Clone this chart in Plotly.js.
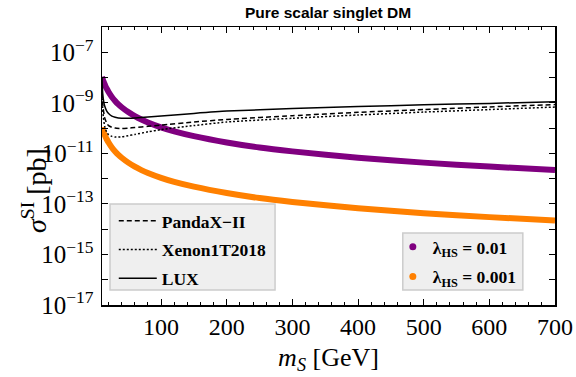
<!DOCTYPE html>
<html>
<head>
<meta charset="utf-8">
<script src="https://cdn.plot.ly/plotly-3.0.1.min.js"></script>
<style>html,body{margin:0;padding:0;background:#fff;}#chart{width:576px;height:377px;}</style>
</head>
<body>
<div id="chart"></div>
<script>
// Dark-matter mass grid for the singlet predictions (GeV)
const massDM = [10, 11, 12, 13, 14, 15, 17, 20, 25, 30, 35, 40, 50, 60, 70, 80, 100, 120, 150, 200, 250, 300, 400, 500, 600, 700];
// lambda_HS = 0.01 (pb)
const sigmaL001 = [1.07e-8, 8.84e-9, 7.43e-9, 6.33e-9, 5.46e-9, 4.76e-9, 3.70e-9, 2.68e-9, 1.71e-9, 1.19e-9, 8.7e-10, 6.7e-10, 4.3e-10, 2.97e-10, 2.18e-10, 1.67e-10, 1.07e-10, 7.4e-11, 4.8e-11, 2.7e-11, 1.7e-11, 1.2e-11, 6.7e-12, 4.3e-12, 3.0e-12, 2.2e-12];
// lambda_HS = 0.001 (pb)
const sigmaL0001 = [1.07e-10, 8.84e-11, 7.43e-11, 6.33e-11, 5.46e-11, 4.76e-11, 3.70e-11, 2.68e-11, 1.71e-11, 1.19e-11, 8.7e-12, 6.7e-12, 4.3e-12, 2.97e-12, 2.18e-12, 1.67e-12, 1.07e-12, 7.4e-13, 4.8e-13, 2.7e-13, 1.7e-13, 1.2e-13, 6.7e-14, 4.3e-14, 3.0e-14, 2.2e-14];

// Experimental limits
const limitMass = [10, 11, 12, 14, 17, 20, 25, 30, 40, 50, 60, 80, 100, 150, 200, 300, 400, 500, 600, 700];
const luxLimit = [1.0e-8, 2.5e-9, 1.4e-9, 7.6e-10, 4.8e-10, 3.8e-10, 3.0e-10, 2.7e-10, 2.45e-10, 2.45e-10, 2.5e-10, 2.75e-10, 3.0e-10, 3.8e-10, 4.7e-10, 5.9e-10, 7.1e-10, 8.3e-10, 9.5e-10, 1.1e-9];
const pandaxLimit = [5.0e-9, 1.0e-9, 5.5e-10, 2.6e-10, 1.6e-10, 1.25e-10, 1.08e-10, 1.0e-10, 9.6e-11, 1.0e-10, 1.05e-10, 1.17e-10, 1.32e-10, 1.74e-10, 2.2e-10, 3.1e-10, 4.2e-10, 5.4e-10, 6.9e-10, 8.5e-10];
const xenonLimit = [3.2e-9, 6.3e-10, 2.8e-10, 1.2e-10, 7.1e-11, 5.5e-11, 4.7e-11, 4.4e-11, 4.5e-11, 5.0e-11, 5.6e-11, 7.1e-11, 8.7e-11, 1.26e-10, 1.74e-10, 2.45e-10, 3.3e-10, 4.3e-10, 5.4e-10, 6.8e-10];

const seriesNames = ['PandaX\u2212II', 'Xenon1T2018', 'LUX'];
const lambdaNames = ['\u03bb<sub>HS</sub> = 0.01', '\u03bb<sub>HS</sub> = 0.001'];

const yTickExp = [-17, -16, -15, -14, -13, -12, -11, -10, -9, -8, -7];
const xTickVals = [100, 200, 300, 400, 500, 600, 700];

const PURPLE = '#800080';
const ORANGE = '#ff8000';

const traces = [
  {x: massDM, y: sigmaL001, mode: 'lines', line: {color: PURPLE, width: 6, shape: 'spline', smoothing: 0.6}, showlegend: false, hoverinfo: 'skip'},
  {x: massDM, y: sigmaL0001, mode: 'lines', line: {color: ORANGE, width: 6, shape: 'spline', smoothing: 0.6}, showlegend: false, hoverinfo: 'skip'},
  {x: limitMass, y: pandaxLimit, name: seriesNames[0], mode: 'lines', line: {color: '#000', width: 1.5, dash: '5px,3px', shape: 'spline', smoothing: 0.5}, legend: 'legend', legendgroup: 'a'},
  {x: limitMass, y: xenonLimit, name: seriesNames[1], mode: 'lines', line: {color: '#000', width: 1.5, dash: '2px,2px', shape: 'spline', smoothing: 0.5}, legend: 'legend', legendgroup: 'b'},
  {x: limitMass, y: luxLimit, name: seriesNames[2], mode: 'lines', line: {color: '#000', width: 1.5, shape: 'spline', smoothing: 0.5}, legend: 'legend', legendgroup: 'c'},
  {x: [null], y: [null], name: lambdaNames[0], mode: 'markers', marker: {color: PURPLE, size: 7}, legend: 'legend2', legendgroup: 'd'},
  {x: [null], y: [null], name: lambdaNames[1], mode: 'markers', marker: {color: ORANGE, size: 7}, legend: 'legend2', legendgroup: 'e'}
];

const serif = 'Liberation Serif, DejaVu Serif, serif';
const legendCommon = {
  bgcolor: 'rgba(0,0,0,0)', borderwidth: 0,
  font: {family: serif, size: 17.5, color: '#000', weight: 'bold'},
  traceorder: 'grouped',
  xanchor: 'left', yanchor: 'bottom'
};

const boxStyle = {type: 'rect', xref: 'paper', yref: 'paper', fillcolor: '#efefef', line: {color: '#cccccc', width: 1.5}, layer: 'above'};

const layout = {
  width: 576, height: 377,
  margin: {l: 102, r: 21, t: 27, b: 72},
  paper_bgcolor: '#fff', plot_bgcolor: '#fff',
  title: {text: '<b>Pure scalar singlet DM</b>', font: {family: 'Liberation Sans, Arial, sans-serif', size: 15.5, color: '#000'}, x: 0.5695, xanchor: 'center', y: 0.966, yanchor: 'middle'},
  xaxis: {
    range: [10, 700], showgrid: false, zeroline: false,
    showline: true, linecolor: '#000', linewidth: 1.5, mirror: 'ticks',
    ticks: 'inside', ticklen: 6, tickwidth: 1, tickcolor: '#000',
    tickmode: 'array', tickvals: xTickVals, ticktext: xTickVals.map(String),
    minor: {tickmode: 'linear', tick0: 0, dtick: 20, ticks: 'inside', ticklen: 3, tickwidth: 1, tickcolor: '#000'},
    tickfont: {family: serif, size: 24, color: '#000'},
    title: {text: '<i>m</i><sub><i>S</i></sub> [GeV]', font: {family: serif, size: 26, color: '#000'}, standoff: 8}
  },
  yaxis: {
    type: 'log', range: [-17, -6], showgrid: false, zeroline: false,
    showline: true, linecolor: '#000', linewidth: 1.5, mirror: 'ticks',
    ticks: 'inside', ticklen: 6, tickwidth: 1, tickcolor: '#000',
    tickmode: 'array',
    tickvals: yTickExp.map(e => Math.pow(10, e)),
    ticktext: yTickExp.map(e => (e % 2 !== 0) ? '10<sup>\u2212' + Math.abs(e) + '</sup>' : ''),
    tickfont: {family: serif, size: 25, color: '#000'},
    ticklabelstandoff: 2
  },
  annotations: [
    {text: '<i>\u03c3</i><sup>SI</sup> [pb]', xref: 'paper', yref: 'paper', x: -0.15, y: 0.41, xanchor: 'center', yanchor: 'middle', textangle: -90, showarrow: false, font: {family: serif, size: 28, color: '#000'}}
  ],
  shapes: [
    Object.assign({}, boxStyle, {x0: 0.0177, x1: 0.382, y0: 0.054, y1: 0.363}),
    Object.assign({}, boxStyle, {x0: 0.664, x1: 0.929, y0: 0.054, y1: 0.259})
  ],
  legend: Object.assign({}, legendCommon, {x: 0.026, y: 0.029, tracegroupgap: 3, itemwidth: 38}),
  legend2: Object.assign({}, legendCommon, {x: 0.642, y: 0.036, tracegroupgap: 4}),
  showlegend: true
};

Plotly.newPlot('chart', traces, layout, {displayModeBar: false, staticPlot: true});
</script>
</body>
</html>
